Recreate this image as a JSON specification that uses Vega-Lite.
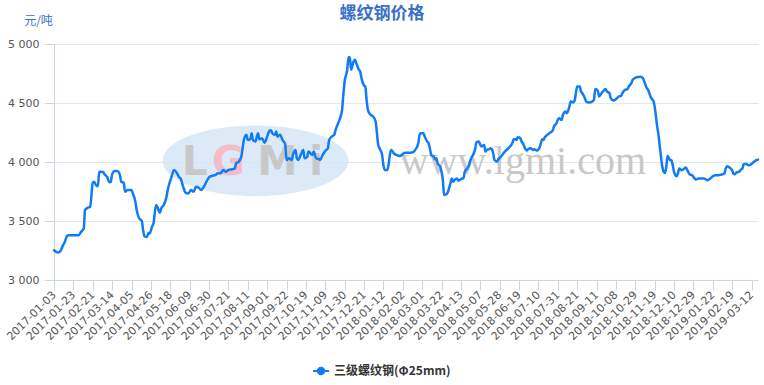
{
  "$schema": "https://vega.github.io/schema/vega-lite/v6.json",
  "width": 704,
  "height": 236,
  "autosize": {"type": "none"},
  "padding": {"left": 54, "top": 44, "right": 6, "bottom": 105},
  "background": "white",
  "title": {"text": "螺纹钢价格", "fontSize": 17, "fontWeight": "bold", "color": "#3a6fc8", "font": "Noto Sans CJK SC", "offset": -9, "dx": -24, "anchor": "middle"},
  "config": {"view": {"stroke": null}},
  "encoding": {
    "x": {
      "field": "day", "type": "quantitative",
      "scale": {"domain": [0, 545], "nice": false, "zero": false},
      "axis": {
        "title": null, "grid": false,
        "values": [0,15,30,45,60,75,90,105,120,135,150,165,180,195,210,225,240,255,270,285,300,315,330,345,360,375,390,405,420,435,450,465,480,495,510,525,540],
        "labelExpr": "['2017-01-03','2017-01-23','2017-02-21','2017-03-14','2017-04-05','2017-04-26','2017-05-18','2017-06-09','2017-06-30','2017-07-21','2017-08-11','2017-09-01','2017-09-22','2017-10-19','2017-11-09','2017-11-30','2017-12-21','2018-01-12','2018-02-02','2018-03-01','2018-03-22','2018-04-13','2018-05-07','2018-05-28','2018-06-19','2018-07-10','2018-07-31','2018-08-21','2018-09-11','2018-10-08','2018-10-29','2018-11-19','2018-12-10','2018-12-29','2019-01-22','2019-02-19','2019-03-12'][round(datum.value/15)]",
        "labelAngle": -45, "labelAlign": "right", "labelBaseline": "middle",
        "labelFont": "DejaVu Sans", "labelFontSize": 11, "labelColor": "#555555",
        "labelPadding": 3, "labelOverlap": false, "labelFlush": false, "labelBound": false,
        "tickSize": 10, "tickColor": "#ccd6eb", "domainColor": "#ccd6eb"
      }
    },
    "y": {
      "field": "price", "type": "quantitative",
      "scale": {"domain": [3000, 5000], "nice": false, "zero": false},
      "axis": {
        "title": "元/吨", "titleAngle": 0, "titleX": -16, "titleY": -24, "titleAlign": "center", "titleBaseline": "middle",
        "titleFont": "Noto Sans CJK SC", "titleFontSize": 12, "titleFontWeight": "normal", "titleColor": "#3a6fc8",
        "values": [3000, 3500, 4000, 4500, 5000],
        "labelExpr": "replace(format(datum.value, ','), ',', ' ')",
        "labelFont": "DejaVu Sans", "labelFontSize": 11, "labelColor": "#555555", "labelPadding": 5,
        "grid": true, "gridColor": "#e6e6e6", "tickSize": 10, "tickColor": "#ccd6eb", "domainColor": "#ccd6eb"
      }
    }
  },
  "layer": [
    {
      "data": {"values": [{"day": 156, "price": 4010}]},
      "mark": {"type": "point", "shape": "M-1,0A1,0.38,0,1,1,1,0A1,0.38,0,1,1,-1,0Z", "size": 34596, "filled": true, "color": "#d3e3f4", "opacity": 0.8, "strokeWidth": 0}
    },
    {
      "data": {"values": [{"day": 109, "price": 3890, "label": "L"}, {"day": 173, "price": 3890, "label": "M"}, {"day": 203, "price": 3890, "label": "i"}]},
      "mark": {"type": "text", "font": "DejaVu Sans", "fontWeight": "bold", "fontSize": 40, "color": "#c8c8c8", "baseline": "alphabetic", "align": "center"},
      "encoding": {"text": {"field": "label"}}
    },
    {
      "data": {"values": [{"day": 135, "price": 3890, "label": "G"}]},
      "mark": {"type": "text", "font": "DejaVu Sans", "fontWeight": "bold", "fontSize": 40, "color": "#f4bcc6", "baseline": "alphabetic", "align": "center"},
      "encoding": {"text": {"field": "label"}}
    },
    {
      "data": {"values": [{"day": 363, "price": 3895, "label": "www.lgmi.com"}]},
      "mark": {"type": "text", "font": "Liberation Serif", "fontSize": 40, "color": "#c8c8c8", "baseline": "alphabetic", "align": "center"},
      "encoding": {"text": {"field": "label"}}
    },
    {
      "data": {"values": [
        {"day":0,"price":3252},{"day":3,"price":3232},{"day":5,"price":3246},{"day":7,"price":3295},{"day":8,"price":3314},{"day":10,"price":3371},{"day":11,"price":3380},{"day":19,"price":3380},{"day":21,"price":3408},{"day":23,"price":3436},{"day":24,"price":3592},{"day":26,"price":3612},{"day":28,"price":3620},{"day":30,"price":3824},{"day":31,"price":3833},{"day":33,"price":3796},{"day":34,"price":3796},{"day":35,"price":3918},{"day":38,"price":3915},{"day":39,"price":3898},{"day":41,"price":3875},{"day":43,"price":3828},{"day":44,"price":3833},{"day":45,"price":3895},{"day":47,"price":3924},{"day":49,"price":3924},{"day":51,"price":3890},{"day":52,"price":3833},{"day":54,"price":3824},{"day":55,"price":3748},{"day":57,"price":3762},{"day":60,"price":3762},{"day":61,"price":3734},{"day":63,"price":3663},{"day":64,"price":3592},{"day":66,"price":3521},{"day":68,"price":3501},{"day":69,"price":3422},{"day":70,"price":3371},{"day":72,"price":3365},{"day":73,"price":3399},{"day":74,"price":3394},{"day":76,"price":3456},{"day":77,"price":3479},{"day":79,"price":3635},{"day":80,"price":3620},{"day":82,"price":3569},{"day":83,"price":3607},{"day":85,"price":3635},{"day":86,"price":3663},{"day":87,"price":3700},{"day":88,"price":3760},{"day":91,"price":3875},{"day":93,"price":3932},{"day":95,"price":3909},{"day":97,"price":3870},{"day":98,"price":3861},{"day":100,"price":3790},{"day":102,"price":3739},{"day":104,"price":3734},{"day":106,"price":3762},{"day":108,"price":3748},{"day":110,"price":3790},{"day":112,"price":3782},{"day":114,"price":3762},{"day":116,"price":3790},{"day":118,"price":3833},{"day":120,"price":3870},{"day":122,"price":3881},{"day":125,"price":3890},{"day":127,"price":3904},{"day":129,"price":3904},{"day":131,"price":3932},{"day":133,"price":3918},{"day":135,"price":3932},{"day":138,"price":3938},{"day":140,"price":3946},{"day":141,"price":3989},{"day":143,"price":4003},{"day":145,"price":4045},{"day":146,"price":4117},{"day":147,"price":4187},{"day":149,"price":4230},{"day":150,"price":4187},{"day":152,"price":4193},{"day":153,"price":4244},{"day":154,"price":4187},{"day":156,"price":4173},{"day":157,"price":4215},{"day":158,"price":4244},{"day":159,"price":4193},{"day":161,"price":4201},{"day":163,"price":4164},{"day":165,"price":4215},{"day":167,"price":4266},{"day":168,"price":4266},{"day":169,"price":4244},{"day":171,"price":4230},{"day":172,"price":4258},{"day":173,"price":4215},{"day":175,"price":4230},{"day":177,"price":4185},{"day":179,"price":4150},{"day":180,"price":4017},{"day":182,"price":4031},{"day":184,"price":4017},{"day":185,"price":4060},{"day":187,"price":4102},{"day":188,"price":4031},{"day":189,"price":4017},{"day":191,"price":4060},{"day":193,"price":4102},{"day":194,"price":4031},{"day":196,"price":4045},{"day":197,"price":4088},{"day":200,"price":4060},{"day":201,"price":4088},{"day":203,"price":4031},{"day":205,"price":4026},{"day":206,"price":4017},{"day":208,"price":4060},{"day":210,"price":4094},{"day":212,"price":4116},{"day":213,"price":4187},{"day":215,"price":4215},{"day":217,"price":4230},{"day":218,"price":4272},{"day":220,"price":4329},{"day":221,"price":4357},{"day":223,"price":4442},{"day":224,"price":4570},{"day":225,"price":4683},{"day":227,"price":4782},{"day":228,"price":4887},{"day":229,"price":4887},{"day":230,"price":4782},{"day":232,"price":4853},{"day":233,"price":4867},{"day":234,"price":4839},{"day":236,"price":4782},{"day":237,"price":4768},{"day":238,"price":4711},{"day":240,"price":4648},{"day":241,"price":4640},{"day":242,"price":4527},{"day":243,"price":4442},{"day":245,"price":4400},{"day":246,"price":4394},{"day":247,"price":4386},{"day":249,"price":4343},{"day":250,"price":4244},{"day":251,"price":4145},{"day":252,"price":4117},{"day":254,"price":4060},{"day":255,"price":3975},{"day":256,"price":3932},{"day":258,"price":3932},{"day":259,"price":3975},{"day":260,"price":4060},{"day":261,"price":4102},{"day":263,"price":4074},{"day":265,"price":4060},{"day":268,"price":4050},{"day":269,"price":4060},{"day":272,"price":4079},{"day":276,"price":4079},{"day":278,"price":4082},{"day":280,"price":4108},{"day":282,"price":4159},{"day":283,"price":4230},{"day":284,"price":4244},{"day":286,"price":4244},{"day":287,"price":4215},{"day":289,"price":4173},{"day":290,"price":4159},{"day":291,"price":4117},{"day":292,"price":4060},{"day":294,"price":4045},{"day":295,"price":4023},{"day":296,"price":4031},{"day":297,"price":3989},{"day":299,"price":3960},{"day":300,"price":3918},{"day":301,"price":3847},{"day":302,"price":3720},{"day":304,"price":3728},{"day":305,"price":3748},{"day":307,"price":3824},{"day":308,"price":3861},{"day":309,"price":3833},{"day":310,"price":3847},{"day":312,"price":3861},{"day":313,"price":3841},{"day":314,"price":3847},{"day":316,"price":3861},{"day":317,"price":3861},{"day":318,"price":3918},{"day":320,"price":3946},{"day":321,"price":3966},{"day":322,"price":4003},{"day":323,"price":4031},{"day":325,"price":4074},{"day":326,"price":4108},{"day":327,"price":4167},{"day":329,"price":4173},{"day":330,"price":4145},{"day":331,"price":4131},{"day":333,"price":4145},{"day":334,"price":4088},{"day":335,"price":4102},{"day":337,"price":4108},{"day":338,"price":4117},{"day":339,"price":4108},{"day":340,"price":4074},{"day":341,"price":4017},{"day":343,"price":4003},{"day":344,"price":4023},{"day":346,"price":4045},{"day":348,"price":4074},{"day":349,"price":4088},{"day":351,"price":4108},{"day":353,"price":4131},{"day":354,"price":4145},{"day":355,"price":4165},{"day":356,"price":4195},{"day":358,"price":4187},{"day":359,"price":4210},{"day":361,"price":4201},{"day":362,"price":4173},{"day":363,"price":4159},{"day":365,"price":4108},{"day":366,"price":4097},{"day":367,"price":4108},{"day":369,"price":4116},{"day":371,"price":4102},{"day":372,"price":4108},{"day":374,"price":4097},{"day":376,"price":4125},{"day":378,"price":4193},{"day":379,"price":4187},{"day":380,"price":4210},{"day":382,"price":4230},{"day":384,"price":4249},{"day":386,"price":4264},{"day":387,"price":4300},{"day":389,"price":4329},{"day":390,"price":4357},{"day":391,"price":4371},{"day":393,"price":4357},{"day":394,"price":4400},{"day":396,"price":4428},{"day":397,"price":4414},{"day":399,"price":4471},{"day":400,"price":4513},{"day":402,"price":4505},{"day":403,"price":4519},{"day":404,"price":4584},{"day":405,"price":4640},{"day":407,"price":4640},{"day":408,"price":4598},{"day":409,"price":4584},{"day":411,"price":4541},{"day":412,"price":4513},{"day":414,"price":4505},{"day":416,"price":4508},{"day":418,"price":4527},{"day":419,"price":4618},{"day":421,"price":4604},{"day":422,"price":4555},{"day":423,"price":4570},{"day":425,"price":4598},{"day":427,"price":4618},{"day":428,"price":4598},{"day":430,"price":4584},{"day":431,"price":4541},{"day":433,"price":4521},{"day":435,"price":4532},{"day":437,"price":4555},{"day":439,"price":4561},{"day":440,"price":4584},{"day":442,"price":4612},{"day":444,"price":4618},{"day":445,"price":4640},{"day":447,"price":4669},{"day":448,"price":4697},{"day":450,"price":4713},{"day":452,"price":4721},{"day":454,"price":4722},{"day":456,"price":4709},{"day":457,"price":4681},{"day":459,"price":4624},{"day":460,"price":4610},{"day":462,"price":4548},{"day":463,"price":4531},{"day":464,"price":4519},{"day":465,"price":4468},{"day":467,"price":4298},{"day":468,"price":4228},{"day":469,"price":4129},{"day":471,"price":3958},{"day":472,"price":3916},{"day":473,"price":3907},{"day":474,"price":3958},{"day":475,"price":4052},{"day":477,"price":4015},{"day":478,"price":4015},{"day":479,"price":3973},{"day":480,"price":3916},{"day":482,"price":3879},{"day":483,"price":3902},{"day":484,"price":3944},{"day":486,"price":3930},{"day":488,"price":3944},{"day":489,"price":3953},{"day":491,"price":3916},{"day":492,"price":3896},{"day":494,"price":3888},{"day":496,"price":3860},{"day":497,"price":3851},{"day":499,"price":3860},{"day":501,"price":3860},{"day":503,"price":3860},{"day":505,"price":3851},{"day":506,"price":3845},{"day":508,"price":3860},{"day":510,"price":3879},{"day":512,"price":3888},{"day":514,"price":3888},{"day":517,"price":3894},{"day":519,"price":3902},{"day":520,"price":3944},{"day":521,"price":3964},{"day":523,"price":3953},{"day":525,"price":3930},{"day":526,"price":3902},{"day":527,"price":3896},{"day":529,"price":3916},{"day":530,"price":3916},{"day":532,"price":3938},{"day":533,"price":3947},{"day":534,"price":3983},{"day":536,"price":3983},{"day":538,"price":3972},{"day":539,"price":3975},{"day":541,"price":3994},{"day":542,"price":4003},{"day":544,"price":4017},{"day":545,"price":4020}
      ]},
      "mark": {"type": "line", "strokeWidth": 2.5, "interpolate": "monotone", "strokeJoin": "round", "strokeCap": "round"},
      "encoding": {
        "color": {
          "datum": "三级螺纹钢(Φ25mm)",
          "scale": {"range": ["#0f7bf7"]},
          "legend": {
            "title": null, "orient": "none", "legendX": 258, "legendY": 318,
            "symbolType": "M-1,0H1M0.4,0A0.4,0.4,0,1,1,-0.4,0A0.4,0.4,0,1,1,0.4,0Z",
            "symbolSize": 256, "symbolStrokeWidth": 2, "symbolStrokeColor": "#0f7bf7", "symbolFillColor": "#0f7bf7",
            "labelFont": "Noto Sans CJK SC", "labelFontSize": 12, "labelFontWeight": "bold", "labelColor": "#333333",
            "encode": {"symbols": {"update": {"fill": {"value": "#0f7bf7"}, "stroke": {"value": "#0f7bf7"}}}}
          }
        }
      }
    }
  ]
}
